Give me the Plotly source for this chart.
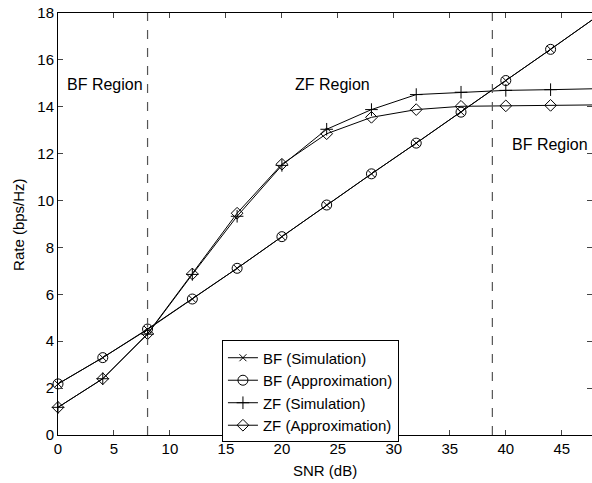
import plotly.graph_objects as go

snr = [0, 4, 8, 12, 16, 20, 24, 28, 32, 36, 40, 44, 48]
bf_sim = [2.18, 3.30, 4.50, 5.80, 7.11, 8.46, 9.81, 11.14, 12.45, 13.77, 15.12, 16.45, 17.80]
bf_approx = [2.18, 3.30, 4.52, 5.80, 7.11, 8.46, 9.81, 11.14, 12.45, 13.77, 15.12, 16.45, 17.80]
zf_sim = [1.18, 2.40, 4.30, 6.85, 9.33, 11.50, 13.04, 13.88, 14.52, 14.62, 14.70, 14.73, 14.77]
zf_approx = [1.18, 2.40, 4.32, 6.87, 9.46, 11.55, 12.85, 13.55, 13.88, 14.02, 14.04, 14.06, 14.08]
region_lines = [8, 38.8]
xticks = [0, 5, 10, 15, 20, 25, 30, 35, 40, 45]
yticks = [0, 2, 4, 6, 8, 10, 12, 14, 16, 18]

FONT = "Liberation Sans, Arial, Helvetica, sans-serif"

fig = go.Figure()
line = dict(color="black", width=1)
fig.add_trace(go.Scatter(x=snr, y=bf_sim, mode="lines+markers", name="BF (Simulation)",
                         line=line, cliponaxis=False,
                         marker=dict(symbol="x-thin-open", size=7, color="black", line=dict(width=1, color="black"))))
fig.add_trace(go.Scatter(x=snr, y=bf_approx, mode="lines+markers", name="BF (Approximation)",
                         line=line, cliponaxis=False,
                         marker=dict(symbol="circle-open", size=10, color="black", line=dict(width=1, color="black"))))
fig.add_trace(go.Scatter(x=snr, y=zf_sim, mode="lines+markers", name="ZF (Simulation)",
                         line=line, cliponaxis=False,
                         marker=dict(symbol="cross-thin-open", size=9, color="black", line=dict(width=1, color="black"))))
fig.add_trace(go.Scatter(x=snr, y=zf_approx, mode="lines+markers", name="ZF (Approximation)",
                         line=line, cliponaxis=False,
                         marker=dict(symbol="diamond-open", size=9, color="black", line=dict(width=1, color="black"))))

# invisible trace for right-side tick marks
fig.add_trace(go.Scatter(x=[0], y=[0], yaxis="y2", mode="markers", marker=dict(opacity=0),
                         showlegend=False, hoverinfo="skip"))

for xv in region_lines:
    fig.add_shape(type="line", x0=xv, x1=xv, y0=0, y1=18, xref="x", yref="y",
                  line=dict(color="#555555", width=1.2, dash="dash"))

ann_font = dict(family=FONT, size=16, color="black")
fig.add_annotation(x=0.65, y=14.95, text="BF Region", showarrow=False, xanchor="left", font=ann_font)
fig.add_annotation(x=21.0, y=14.95, text="ZF Region", showarrow=False, xanchor="left", font=ann_font)
fig.add_annotation(x=40.35, y=12.4, text="BF Region", showarrow=False, xanchor="left", font=ann_font)

title_font = dict(family=FONT, size=15, color="black")
fig.add_annotation(x=0.5, y=-0.083, xref="paper", yref="paper", text="SNR (dB)", showarrow=False,
                   xanchor="center", yanchor="middle", font=title_font)
fig.add_annotation(x=-0.075, y=0.5, xref="paper", yref="paper", text="Rate (bps/Hz)", showarrow=False,
                   xanchor="center", yanchor="middle", textangle=-90, font=title_font)

fig.update_layout(
    width=592, height=483,
    margin=dict(l=58, r=0, t=13, b=48),
    paper_bgcolor="white", plot_bgcolor="white",
    font=dict(family=FONT, size=15, color="black"),
    showlegend=True,
    legend=dict(x=0.307, y=0.224, xanchor="left", yanchor="top",
                bordercolor="black", borderwidth=1, bgcolor="white",
                font=dict(family=FONT, size=15, color="black"),
                tracegroupgap=0, itemsizing="trace",
                entrywidth=165, entrywidthmode="pixels"),
    xaxis=dict(range=[0, 47.7], tickvals=xticks, ticks="inside", ticklen=5,
               showline=True, linecolor="black", linewidth=1, mirror="ticks",
               showgrid=False, zeroline=False, automargin=False),
    yaxis=dict(range=[0, 18], tickvals=yticks, ticks="inside", ticklen=5,
               showline=True, linecolor="black", linewidth=1, mirror=False,
               showgrid=False, zeroline=False, automargin=False),
    yaxis2=dict(range=[0, 18], overlaying="y", side="right", tickvals=yticks,
                ticks="inside", ticklen=5, showticklabels=False, showline=False,
                showgrid=False, zeroline=False, automargin=False),
)

fig.write_html("out.html", config={"displayModeBar": False},
               post_script="document.body.style.margin='0';document.body.style.overflow='hidden';")
